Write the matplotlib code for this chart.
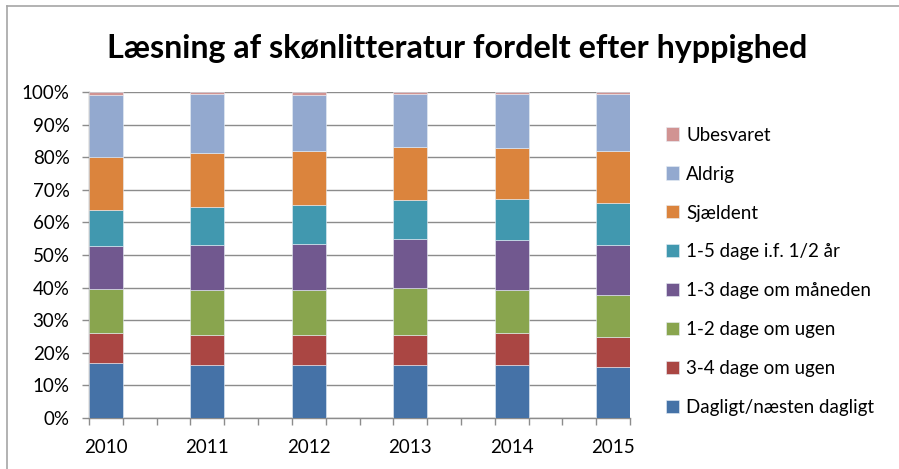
import matplotlib.pyplot as plt
from matplotlib.lines import Line2D
from matplotlib.ticker import PercentFormatter, FixedLocator
import numpy as np

plt.rcParams['font.family'] = ['Lato', 'DejaVu Sans']

# Data (share of respondents, percent)
years = ['2010', '2011', '2012', '2013', '2014', '2015']
categories = ['Dagligt/næsten dagligt', '3-4 dage om ugen', '1-2 dage om ugen',
              '1-3 dage om måneden', '1-5 dage i.f. 1/2 år', 'Sjældent',
              'Aldrig', 'Ubesvaret']
dagligt = [16.9, 16.4, 16.3, 16.4, 16.4, 15.8]
dage_3_4_uge = [9.2, 9.0, 9.3, 9.2, 9.7, 9.0]
dage_1_2_uge = [13.4, 13.8, 13.6, 14.3, 13.2, 13.0]
dage_1_3_maaned = [13.3, 14.0, 14.2, 14.9, 15.2, 15.2]
dage_1_5_halvaar = [11.1, 11.4, 12.0, 12.0, 12.8, 13.1]
sjaeldent = [16.3, 16.8, 16.5, 16.4, 15.4, 15.7]
aldrig = [19.0, 18.0, 17.3, 16.1, 16.6, 17.5]
ubesvaret = [0.8, 0.6, 0.8, 0.7, 0.7, 0.7]

series = [dagligt, dage_3_4_uge, dage_1_2_uge, dage_1_3_maaned,
          dage_1_5_halvaar, sjaeldent, aldrig, ubesvaret]
colors = ['#4572A7', '#AA4643', '#89A54E', '#71588F',
          '#4198AF', '#DB843D', '#93A9CF', '#D19392']

fig = plt.figure(figsize=(8.99, 4.69), dpi=100)
ax = fig.add_axes([0.099, 0.1087, 0.6018, 0.6951])

# bars sit on every third slot, like Excel with wide gaps
x = np.arange(len(years)) * 3
bottom = np.zeros(len(years))
handles = []
for vals, col, lab in zip(series, colors, categories):
    b = ax.bar(x, vals, width=1.0, bottom=bottom, color=col,
               edgecolor='#e8eef6', linewidth=0.4, label=lab, zorder=3)
    handles.append(b)
    bottom += np.array(vals)

ax.set_xlim(-0.5, x[-1] + 0.5)
ax.set_ylim(0, 100)
ax.yaxis.set_major_locator(FixedLocator(np.arange(0, 101, 10)))
ax.yaxis.set_major_formatter(PercentFormatter(decimals=0))
ax.grid(axis='y', color='#8c8c8c', linewidth=1.0, zorder=0)

ax.set_xticks(x)
ax.set_xticklabels(years)
ax.set_xticks(np.arange(-0.5, x[-1] + 1, 1.0), minor=True)
ax.tick_params(axis='x', which='major', length=0, pad=15, labelsize=13.5)
ax.tick_params(axis='x', which='minor', length=5, width=1, color='#8c8c8c', direction='out')
ax.tick_params(axis='y', length=5, width=1, color='#8c8c8c', pad=9, labelsize=13.5)

for s in ['top', 'right']:
    ax.spines[s].set_visible(False)
for s in ['left', 'bottom']:
    ax.spines[s].set_color('#8c8c8c')
    ax.spines[s].set_linewidth(1.0)

fig.text(0.509, 0.897, 'Læsning af skønlitteratur fordelt efter hyppighed',
         ha='center', va='center', fontsize=23.2, fontweight='bold')

fig.legend(handles[::-1], categories[::-1], loc='upper left',
           bbox_to_anchor=(0.73, 0.75), frameon=False, fontsize=13.5,
           handlelength=0.7, handleheight=0.7, handletextpad=0.4,
           labelspacing=1.17, borderpad=0)

# chart-area border (top and left edges visible)
fig.add_artist(Line2D([0.008, 0.008], [0.0, 0.987], color='#a6a6a6', lw=1.2))
fig.add_artist(Line2D([0.008, 1.0], [0.987, 0.987], color='#a6a6a6', lw=1.2))

fig.savefig('out.png', dpi=100)
